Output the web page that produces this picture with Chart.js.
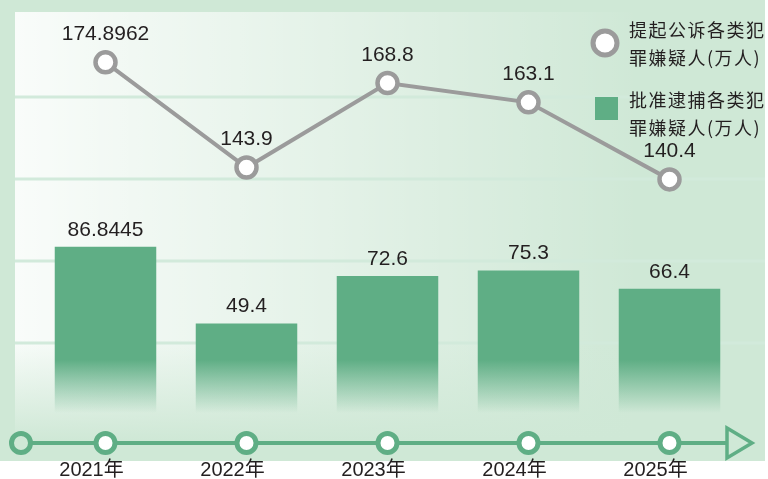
<html><head><meta charset="utf-8">
<script src="https://cdn.jsdelivr.net/npm/chart.js@4.4.1/dist/chart.umd.min.js"></script>
<style>
  html, body { margin: 0; padding: 0; background: #fff; }
  #wrap { width: 768px; height: 479px; }
</style>
</head>
<body>
<div id="wrap"><canvas id="myChart" width="768" height="479"></canvas></div>
<script>
// data
var years = ['2021年', '2022年', '2023年', '2024年', '2025年'];
var prosecuted = [174.8962, 143.9, 168.8, 163.1, 140.4];   // 提起公诉 (万人)
var arrested = [86.8445, 49.4, 72.6, 75.3, 66.4];          // 批准逮捕 (万人)
var prosecutedLabel = ['提起公诉各类犯', '罪嫌疑人(万人)'];
var arrestedLabel = ['批准逮捕各类犯', '罪嫌疑人(万人)'];

var GREEN = '#5fae85';
var FRAME = '#cfe8d6';
var GREY = '#9b9b9b';
var INK = '#231f20';
var NUM_FONT = '"Liberation Sans", Arial, "Noto Sans CJK SC", sans-serif';
var CJK_FONT = '"Noto Sans CJK SC", "Liberation Sans", sans-serif';

// green frame, light panel and the horizontal rules
var panelPlugin = {
  id: 'panel',
  beforeDraw: function (chart) {
    var c = chart.ctx, y = chart.scales.y;
    c.save();
    c.fillStyle = '#fff';
    c.fillRect(0, 0, chart.width, chart.height);
    c.fillStyle = FRAME;
    c.fillRect(0, 0, 765, 461);
    var g = c.createLinearGradient(15, 0, 640, 0);
    g.addColorStop(0, 'rgba(255,255,255,0.88)');
    g.addColorStop(0.6, 'rgba(255,255,255,0.35)');
    g.addColorStop(1, 'rgba(255,255,255,0)');
    c.fillStyle = g;
    c.fillRect(15, 12, 750, 449);
    var v = c.createLinearGradient(0, 340, 0, 440);
    v.addColorStop(0, 'rgba(207,232,214,0)');
    v.addColorStop(1, 'rgba(207,232,214,1)');
    c.fillStyle = v;
    c.fillRect(15, 340, 750, 121);
    c.strokeStyle = '#d2eadb';
    c.lineWidth = 3;
    y.ticks.forEach(function (t) {
      if (t.value <= y.min || t.value >= y.max) return;
      var py = Math.round(y.getPixelForValue(t.value));
      c.beginPath();
      c.moveTo(15, py);
      c.lineTo(765, py);
      c.stroke();
    });
    c.restore();
  }
};

function ring(c, x, y, fill, stroke) {
  c.beginPath();
  c.arc(x, y, 9.5, 0, Math.PI * 2);
  c.fillStyle = fill;
  c.fill();
  c.lineWidth = 5;
  c.strokeStyle = stroke;
  c.stroke();
}

// value labels, timeline with year labels, and legend
var decoPlugin = {
  id: 'deco',
  afterDatasetsDraw: function (chart) {
    var c = chart.ctx;
    c.save();
    c.fillStyle = INK;
    c.font = '21px ' + NUM_FONT;
    c.textAlign = 'center';
    c.textBaseline = 'middle';
    chart.data.datasets.forEach(function (ds, di) {
      var meta = chart.getDatasetMeta(di);
      var off = ds.type === 'line' ? 28 : 17;
      meta.data.forEach(function (el, i) {
        c.fillText(String(ds.data[i]), el.x, el.y - off);
      });
    });
    c.restore();
  },
  afterDraw: function (chart) {
    var c = chart.ctx, x = chart.scales.x;
    var ay = chart.chartArea.bottom + 18;
    c.save();
    c.strokeStyle = GREEN;
    c.lineWidth = 4;
    c.beginPath();
    c.moveTo(21, ay);
    c.lineTo(727, ay);
    c.stroke();
    c.lineWidth = 3.5;
    c.lineJoin = 'miter';
    c.beginPath();
    c.moveTo(727, ay - 15);
    c.lineTo(752, ay);
    c.lineTo(727, ay + 15);
    c.closePath();
    c.stroke();
    ring(c, 21, ay, FRAME, GREEN);
    c.font = '20px ' + NUM_FONT;
    c.textAlign = 'center';
    c.textBaseline = 'middle';
    chart.data.labels.forEach(function (lab, i) {
      var px = x.getPixelForValue(i);
      ring(c, px, ay, '#fff', GREEN);
      c.fillStyle = INK;
      c.fillText(lab, px - 14, ay + 27);
    });

    // legend
    c.beginPath();
    c.arc(605, 43, 12, 0, Math.PI * 2);
    c.fillStyle = '#fff';
    c.fill();
    c.lineWidth = 5;
    c.strokeStyle = GREY;
    c.stroke();
    c.fillStyle = GREEN;
    c.fillRect(595, 97, 23, 23);
    c.fillStyle = INK;
    c.font = '18px ' + CJK_FONT;
    c.letterSpacing = '1.5px';
    c.textAlign = 'left';
    c.textBaseline = 'middle';
    var sets = [[chart.data.datasets[0].label, 30], [chart.data.datasets[1].label, 100]];
    sets.forEach(function (s) {
      s[0].forEach(function (line, k) {
        c.fillText(line, 629, s[1] + k * 28);
      });
    });
    c.restore();
  }
};

var ctx = document.getElementById('myChart');
var myChart = new Chart(ctx, {
  data: {
    labels: years,
    datasets: [{
      type: 'line',
      label: prosecutedLabel,
      data: prosecuted,
      yAxisID: 'y2',
      order: 0,
      borderColor: GREY,
      borderWidth: 4,
      pointRadius: 10,
      pointBorderWidth: 4.5,
      pointBackgroundColor: '#fff',
      pointBorderColor: GREY,
      tension: 0
    }, {
      type: 'bar',
      label: arrestedLabel,
      data: arrested,
      yAxisID: 'y',
      order: 1,
      barPercentage: 0.72,
      categoryPercentage: 1,
      borderWidth: 0,
      backgroundColor: function (context) {
        var a = context.chart.chartArea;
        if (!a) return GREEN;
        var g = context.chart.ctx.createLinearGradient(0, a.bottom - 65, 0, a.bottom - 12);
        g.addColorStop(0, 'rgba(95,174,133,1)');
        g.addColorStop(1, 'rgba(95,174,133,0)');
        return g;
      }
    }]
  },
  options: {
    responsive: false,
    animation: false,
    layout: { padding: { left: 35, right: 28, top: 9, bottom: 54 } },
    plugins: { legend: { display: false }, tooltip: { enabled: false } },
    scales: {
      x: {
        grid: { display: false, drawTicks: false },
        border: { display: false },
        ticks: { display: false }
      },
      y: {
        min: 0, max: 200,
        grid: { display: false, drawTicks: false },
        border: { display: false },
        ticks: { display: false, stepSize: 40 }
      },
      y2: {
        display: false,
        min: 68, max: 189
      }
    }
  },
  plugins: [panelPlugin, decoPlugin]
});
</script>
</body></html>
